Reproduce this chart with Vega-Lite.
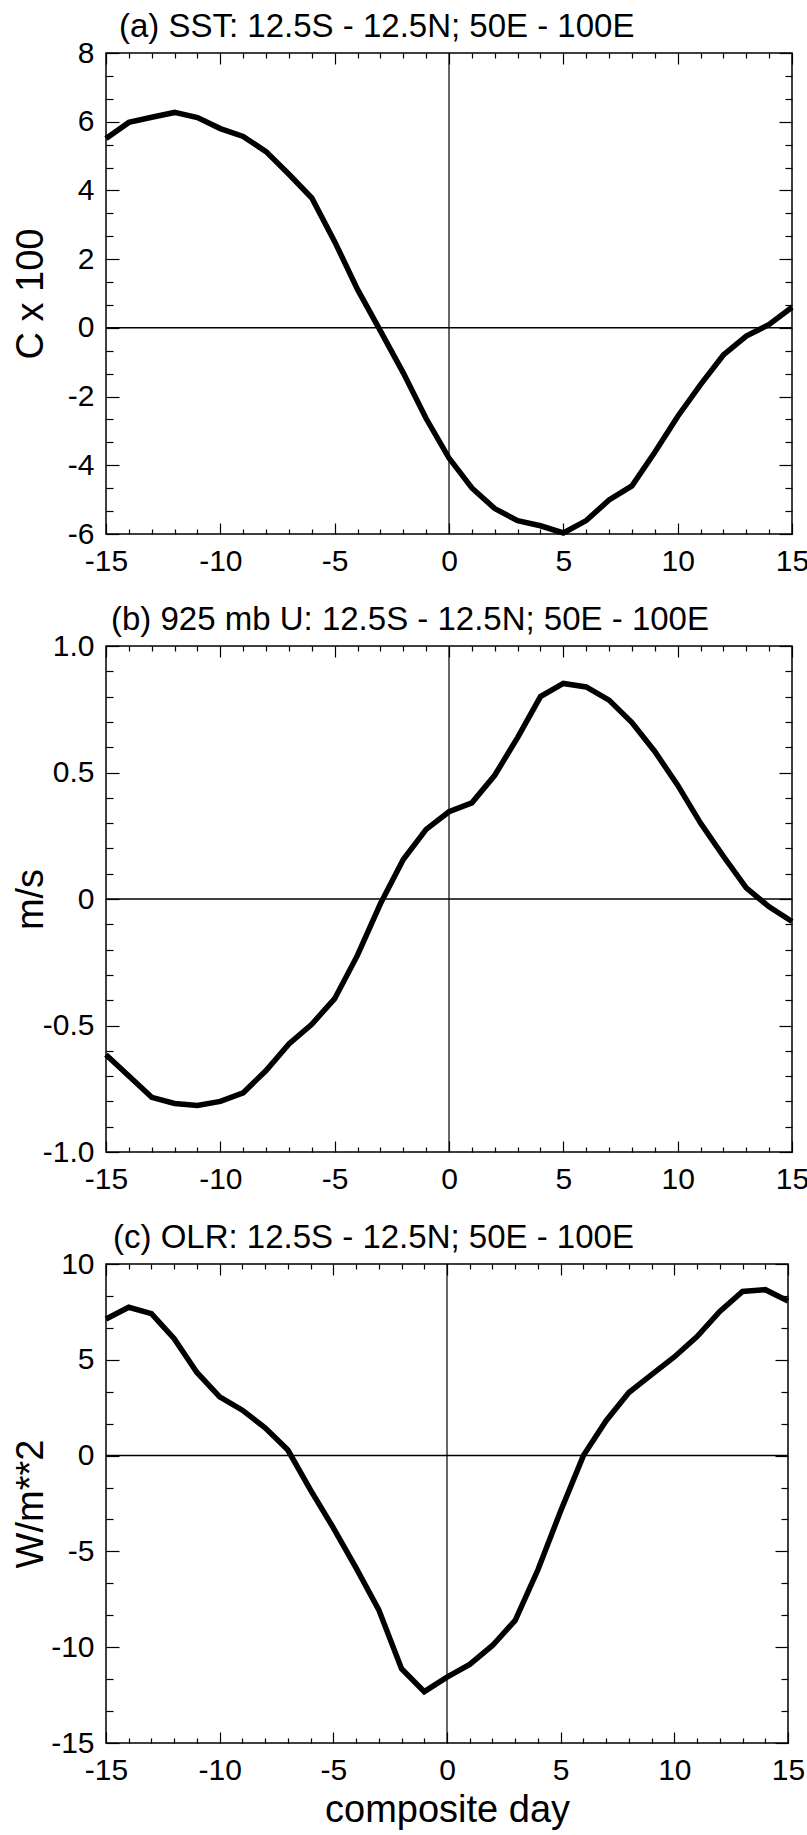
{
  "$schema": "https://vega.github.io/schema/vega-lite/v6.json",
  "padding": {"left": 11, "top": 10, "right": 0, "bottom": 0},
  "background": "white",
  "spacing": 20,
  "config": {
    "font": "Liberation Sans",
    "view": {"stroke": "black", "strokeWidth": 1.5},
    "axis": {
      "domain": false, "grid": false,
      "labelFont": "Liberation Sans", "labelFontSize": 30, "labelColor": "black",
      "tickColor": "black", "tickWidth": 1.2,
      "labelFlush": false, "labelOverlap": false, "labelBound": false,
      "titleFont": "Liberation Sans", "titleFontSize": 38, "titleFontWeight": "normal", "titleColor": "black"
    },
    "title": {"font": "Liberation Sans", "fontSize": 33, "fontWeight": "normal", "anchor": "start", "frame": "group", "color": "black", "offset": -6, "baseline": "alphabetic"}
  },
  "datasets": {
    "sst": [
      {"day": -15, "value": 5.51}, {"day": -14, "value": 5.98}, {"day": -13, "value": 6.13}, {"day": -12, "value": 6.27},
      {"day": -11, "value": 6.12}, {"day": -10, "value": 5.8}, {"day": -9, "value": 5.57}, {"day": -8, "value": 5.13},
      {"day": -7, "value": 4.47}, {"day": -6, "value": 3.78}, {"day": -5, "value": 2.51}, {"day": -4, "value": 1.12},
      {"day": -3, "value": -0.09}, {"day": -2, "value": -1.31}, {"day": -1, "value": -2.64}, {"day": 0, "value": -3.79},
      {"day": 1, "value": -4.66}, {"day": 2, "value": -5.26}, {"day": 3, "value": -5.61}, {"day": 4, "value": -5.76},
      {"day": 5, "value": -5.97}, {"day": 6, "value": -5.61}, {"day": 7, "value": -5.01}, {"day": 8, "value": -4.6},
      {"day": 9, "value": -3.62}, {"day": 10, "value": -2.58}, {"day": 11, "value": -1.65}, {"day": 12, "value": -0.79},
      {"day": 13, "value": -0.24}, {"day": 14, "value": 0.1}, {"day": 15, "value": 0.6}
    ],
    "u925": [
      {"day": -15, "value": -0.616}, {"day": -14, "value": -0.7}, {"day": -13, "value": -0.784}, {"day": -12, "value": -0.808},
      {"day": -11, "value": -0.816}, {"day": -10, "value": -0.8}, {"day": -9, "value": -0.766}, {"day": -8, "value": -0.678},
      {"day": -7, "value": -0.573}, {"day": -6, "value": -0.495}, {"day": -5, "value": -0.394}, {"day": -4, "value": -0.222},
      {"day": -3, "value": -0.019}, {"day": -2, "value": 0.156}, {"day": -1, "value": 0.275}, {"day": 0, "value": 0.345},
      {"day": 1, "value": 0.38}, {"day": 2, "value": 0.489}, {"day": 3, "value": 0.638}, {"day": 4, "value": 0.8},
      {"day": 5, "value": 0.852}, {"day": 6, "value": 0.838}, {"day": 7, "value": 0.786}, {"day": 8, "value": 0.697},
      {"day": 9, "value": 0.583}, {"day": 10, "value": 0.45}, {"day": 11, "value": 0.3}, {"day": 12, "value": 0.169},
      {"day": 13, "value": 0.044}, {"day": 14, "value": -0.031}, {"day": 15, "value": -0.089}
    ],
    "olr": [
      {"day": -15, "value": 7.13}, {"day": -14, "value": 7.74}, {"day": -13, "value": 7.41}, {"day": -12, "value": 6.1},
      {"day": -11, "value": 4.34}, {"day": -10, "value": 3.07}, {"day": -9, "value": 2.37}, {"day": -8, "value": 1.45},
      {"day": -7, "value": 0.29}, {"day": -6, "value": -1.8}, {"day": -5, "value": -3.77}, {"day": -4, "value": -5.86},
      {"day": -3, "value": -8.05}, {"day": -2, "value": -11.12}, {"day": -1, "value": -12.32}, {"day": 0, "value": -11.56},
      {"day": 1, "value": -10.9}, {"day": 2, "value": -9.91}, {"day": 3, "value": -8.6}, {"day": 4, "value": -5.96},
      {"day": 5, "value": -2.89}, {"day": 6, "value": 0.0}, {"day": 7, "value": 1.82}, {"day": 8, "value": 3.29},
      {"day": 9, "value": 4.23}, {"day": 10, "value": 5.15}, {"day": 11, "value": 6.21}, {"day": 12, "value": 7.52},
      {"day": 13, "value": 8.57}, {"day": 14, "value": 8.66}, {"day": 15, "value": 8.07}
    ]
  },
  "vconcat": [
    {
      "title": {"text": "(a) SST: 12.5S - 12.5N; 50E - 100E", "dx": 13},
      "width": 686, "height": 481,
      "resolve": {"axis": {"x": "independent", "y": "independent"}},
      "layer": [
        {
          "data": {"values": [{}]},
          "mark": {"type": "rule", "color": "black", "strokeWidth": 1.5},
          "encoding": {"y": {"datum": 0, "type": "quantitative", "axis": null}}
        },
        {
          "data": {"values": [{}]},
          "mark": {"type": "rule", "color": "black", "strokeWidth": 1.2},
          "encoding": {"x": {"datum": 0, "type": "quantitative", "axis": null}}
        },
        {
          "data": {"name": "sst"},
          "mark": {"type": "line", "color": "black", "strokeWidth": 5.5},
          "encoding": {
            "x": {"field": "day", "type": "quantitative", "scale": {"domain": [-15, 15], "nice": false, "zero": false},
              "axis": {"orient": "bottom", "title": null,
                "values": [-15,-14,-13,-12,-11,-10,-9,-8,-7,-6,-5,-4,-3,-2,-1,0,1,2,3,4,5,6,7,8,9,10,11,12,13,14,15],
                "tickSize": {"condition": {"test": "datum.value % 5 === 0", "value": -11}, "value": -5},
                "labelPadding": 23,
                "labelExpr": "datum.value % 5 === 0 ? '' + datum.value : ''"}},
            "y": {"field": "value", "type": "quantitative", "scale": {"domain": [-6, 8], "nice": false, "zero": false},
              "axis": {"orient": "left", "title": "C x 100", "titleX": -75, "titleY": 240.5, "titleAngle": -90, "titleAlign": "center", "titleBaseline": "middle",
                "values": [-6,-5.3333,-4.6667,-4,-3.3333,-2.6667,-2,-1.3333,-0.6667,0,0.6667,1.3333,2,2.6667,3.3333,4,4.6667,5.3333,6,6.6667,7.3333,8],
                "tickSize": {"condition": {"test": "abs(datum.value - round(datum.value)) < 0.01", "value": -13}, "value": -7},
                "labelPadding": 25,
                "labelExpr": "abs(datum.value - round(datum.value)) < 0.01 ? '' + round(datum.value) : ''"}}
          }
        },
        {
          "data": {"name": "sst"},
          "mark": {"type": "line", "opacity": 0},
          "encoding": {
            "x": {"field": "day", "type": "quantitative",
              "axis": {"orient": "top", "title": null, "labels": false,
                "values": [-15,-14,-13,-12,-11,-10,-9,-8,-7,-6,-5,-4,-3,-2,-1,0,1,2,3,4,5,6,7,8,9,10,11,12,13,14,15],
                "tickSize": {"condition": {"test": "datum.value % 5 === 0", "value": -11}, "value": -5}}},
            "y": {"field": "value", "type": "quantitative",
              "axis": {"orient": "right", "title": null, "labels": false,
                "values": [-6,-5.3333,-4.6667,-4,-3.3333,-2.6667,-2,-1.3333,-0.6667,0,0.6667,1.3333,2,2.6667,3.3333,4,4.6667,5.3333,6,6.6667,7.3333,8],
                "tickSize": {"condition": {"test": "abs(datum.value - round(datum.value)) < 0.01", "value": -13}, "value": -7}}}
          }
        }
      ]
    },
    {
      "title": {"text": "(b) 925 mb U: 12.5S - 12.5N; 50E - 100E", "dx": 5},
      "width": 686, "height": 506,
      "resolve": {"axis": {"x": "independent", "y": "independent"}},
      "layer": [
        {
          "data": {"values": [{}]},
          "mark": {"type": "rule", "color": "black", "strokeWidth": 1.5},
          "encoding": {"y": {"datum": 0, "type": "quantitative", "axis": null}}
        },
        {
          "data": {"values": [{}]},
          "mark": {"type": "rule", "color": "black", "strokeWidth": 1.2},
          "encoding": {"x": {"datum": 0, "type": "quantitative", "axis": null}}
        },
        {
          "data": {"name": "u925"},
          "mark": {"type": "line", "color": "black", "strokeWidth": 5.5},
          "encoding": {
            "x": {"field": "day", "type": "quantitative", "scale": {"domain": [-15, 15], "nice": false, "zero": false},
              "axis": {"orient": "bottom", "title": null,
                "values": [-15,-14,-13,-12,-11,-10,-9,-8,-7,-6,-5,-4,-3,-2,-1,0,1,2,3,4,5,6,7,8,9,10,11,12,13,14,15],
                "tickSize": {"condition": {"test": "datum.value % 5 === 0", "value": -11}, "value": -5},
                "labelPadding": 23,
                "labelExpr": "datum.value % 5 === 0 ? '' + datum.value : ''"}},
            "y": {"field": "value", "type": "quantitative", "scale": {"domain": [-1, 1], "nice": false, "zero": false},
              "axis": {"orient": "left", "title": "m/s", "titleX": -75, "titleY": 253, "titleAngle": -90, "titleAlign": "center", "titleBaseline": "middle",
                "values": [-1,-0.9,-0.8,-0.7,-0.6,-0.5,-0.4,-0.3,-0.2,-0.1,0,0.1,0.2,0.3,0.4,0.5,0.6,0.7,0.8,0.9,1],
                "tickSize": {"condition": {"test": "abs(datum.value*2 - round(datum.value*2)) < 0.01", "value": -13}, "value": -7},
                "labelPadding": 25,
                "labelExpr": "abs(datum.value*2 - round(datum.value*2)) < 0.01 ? (abs(datum.value) < 0.01 ? '0' : (datum.value < 0 ? '-' : '') + format(abs(datum.value), '.1f')) : ''"}}
          }
        },
        {
          "data": {"name": "u925"},
          "mark": {"type": "line", "opacity": 0},
          "encoding": {
            "x": {"field": "day", "type": "quantitative",
              "axis": {"orient": "top", "title": null, "labels": false,
                "values": [-15,-14,-13,-12,-11,-10,-9,-8,-7,-6,-5,-4,-3,-2,-1,0,1,2,3,4,5,6,7,8,9,10,11,12,13,14,15],
                "tickSize": {"condition": {"test": "datum.value % 5 === 0", "value": -11}, "value": -5}}},
            "y": {"field": "value", "type": "quantitative",
              "axis": {"orient": "right", "title": null, "labels": false,
                "values": [-1,-0.9,-0.8,-0.7,-0.6,-0.5,-0.4,-0.3,-0.2,-0.1,0,0.1,0.2,0.3,0.4,0.5,0.6,0.7,0.8,0.9,1],
                "tickSize": {"condition": {"test": "abs(datum.value*2 - round(datum.value*2)) < 0.01", "value": -13}, "value": -7}}}
          }
        }
      ]
    },
    {
      "title": {"text": "(c) OLR: 12.5S - 12.5N; 50E - 100E", "dx": 7},
      "width": 682, "height": 479,
      "resolve": {"axis": {"x": "independent", "y": "independent"}},
      "layer": [
        {
          "data": {"values": [{}]},
          "mark": {"type": "rule", "color": "black", "strokeWidth": 1.5},
          "encoding": {"y": {"datum": 0, "type": "quantitative", "axis": null}}
        },
        {
          "data": {"values": [{}]},
          "mark": {"type": "rule", "color": "black", "strokeWidth": 1.2},
          "encoding": {"x": {"datum": 0, "type": "quantitative", "axis": null}}
        },
        {
          "data": {"name": "olr"},
          "mark": {"type": "line", "color": "black", "strokeWidth": 5.5},
          "encoding": {
            "x": {"field": "day", "type": "quantitative", "scale": {"domain": [-15, 15], "nice": false, "zero": false},
              "axis": {"orient": "bottom", "title": "composite day", "titlePadding": 0,
                "values": [-15,-14,-13,-12,-11,-10,-9,-8,-7,-6,-5,-4,-3,-2,-1,0,1,2,3,4,5,6,7,8,9,10,11,12,13,14,15],
                "tickSize": {"condition": {"test": "datum.value % 5 === 0", "value": -11}, "value": -5},
                "labelPadding": 23,
                "labelExpr": "datum.value % 5 === 0 ? '' + datum.value : ''"}},
            "y": {"field": "value", "type": "quantitative", "scale": {"domain": [-15, 10], "nice": false, "zero": false},
              "axis": {"orient": "left", "title": "W/m**2", "titleX": -75, "titleY": 239.5, "titleAngle": -90, "titleAlign": "center", "titleBaseline": "middle",
                "values": [-15,-13.3333,-11.6667,-10,-8.3333,-6.6667,-5,-3.3333,-1.6667,0,1.6667,3.3333,5,6.6667,8.3333,10],
                "tickSize": {"condition": {"test": "abs(datum.value/5 - round(datum.value/5)) < 0.01", "value": -13}, "value": -7},
                "labelPadding": 25,
                "labelExpr": "abs(datum.value/5 - round(datum.value/5)) < 0.01 ? '' + round(datum.value) : ''"}}
          }
        },
        {
          "data": {"name": "olr"},
          "mark": {"type": "line", "opacity": 0},
          "encoding": {
            "x": {"field": "day", "type": "quantitative",
              "axis": {"orient": "top", "title": null, "labels": false,
                "values": [-15,-14,-13,-12,-11,-10,-9,-8,-7,-6,-5,-4,-3,-2,-1,0,1,2,3,4,5,6,7,8,9,10,11,12,13,14,15],
                "tickSize": {"condition": {"test": "datum.value % 5 === 0", "value": -11}, "value": -5}}},
            "y": {"field": "value", "type": "quantitative",
              "axis": {"orient": "right", "title": null, "labels": false,
                "values": [-15,-13.3333,-11.6667,-10,-8.3333,-6.6667,-5,-3.3333,-1.6667,0,1.6667,3.3333,5,6.6667,8.3333,10],
                "tickSize": {"condition": {"test": "abs(datum.value/5 - round(datum.value/5)) < 0.01", "value": -13}, "value": -7}}}
          }
        }
      ]
    }
  ]
}
